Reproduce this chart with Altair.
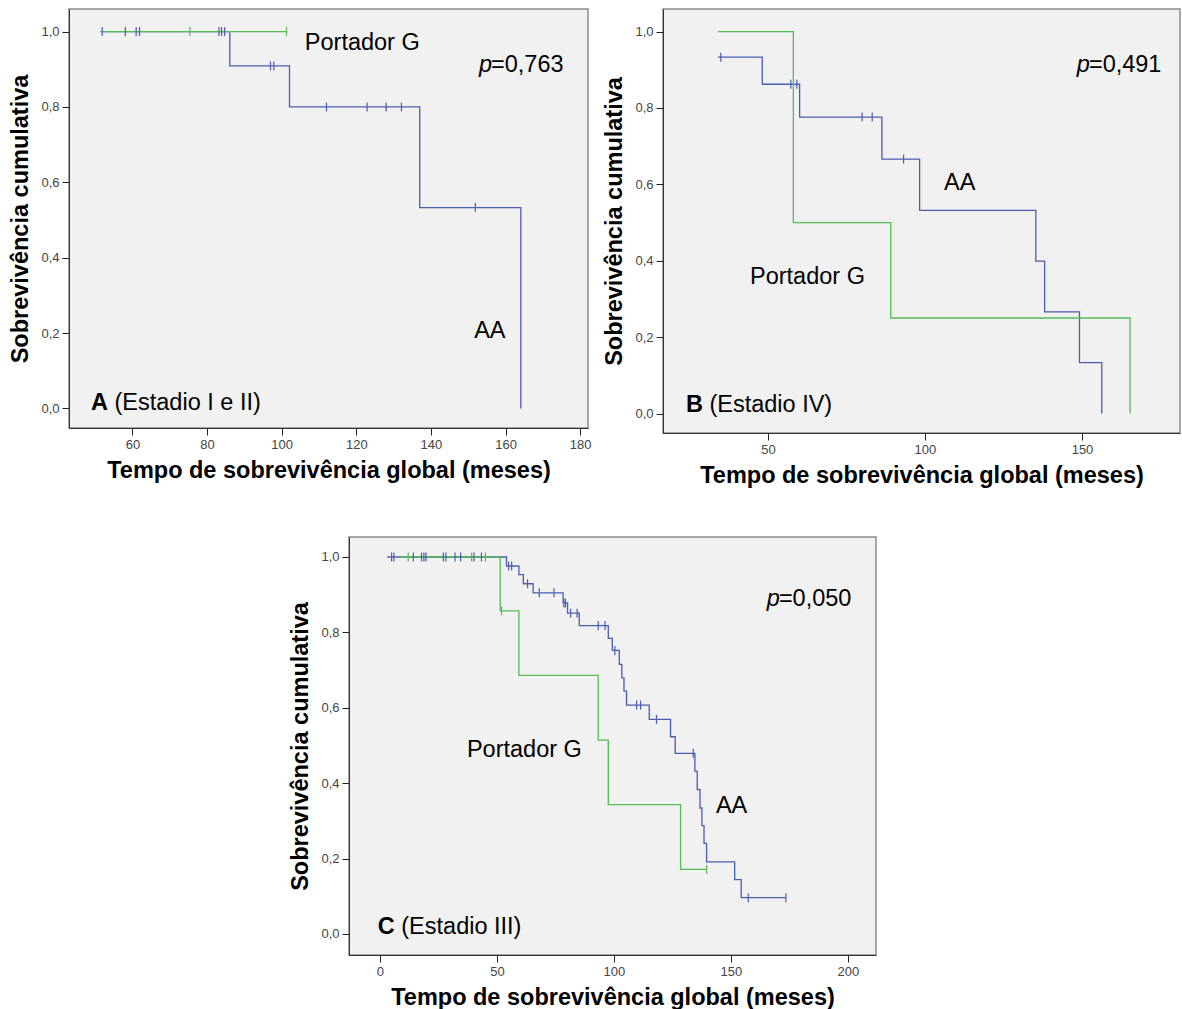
import altair as alt
import pandas as pd

FONT = "Liberation Sans"
BLUE = "#4a5db0"
GREEN = "#55bb55"
XTITLE = "Tempo de sobrevivência global (meses)"
YTITLE = "Sobrevivência cumulativa"

# ---------------- Panel A (Estadio I e II) ----------------
A_AA_t = [51.5, 86.1, 102.1, 137.0, 164.1]
A_AA_s = [1.0, 0.909, 0.800, 0.533, 0.0]
A_AA_ct = [51.9, 58.1, 61.0, 61.9, 83.2, 83.9, 84.7, 97.0, 97.9, 112.0, 122.9, 128.0, 132.1, 151.9]
A_AA_cs = [1, 1, 1, 1, 1, 1, 1, 0.909, 0.909, 0.8, 0.8, 0.8, 0.8, 0.533]
A_G_t = [51.4, 101.3]
A_G_s = [1.0, 1.0]
A_G_ct = [75.4, 101.3]
A_G_cs = [1.0, 1.0]

# ---------------- Panel B (Estadio IV) ----------------
B_AA_t = [34.1, 48.2, 60.1, 86.3, 98.3, 135.3, 138.1, 149.2, 156.3]
B_AA_s = [0.933, 0.862, 0.776, 0.666, 0.532, 0.399, 0.266, 0.133, 0.0]
B_AA_ct = [35.0, 57.3, 59.2, 80.0, 83.2, 93.2]
B_AA_cs = [0.933, 0.862, 0.862, 0.776, 0.776, 0.666]
B_G_t = [34.1, 58.1, 89.1, 165.3]
B_G_s = [1.0, 0.5, 0.25, 0.0]
B_G_ct = []
B_G_cs = []

# ---------------- Panel C (Estadio III) ----------------
C_AA_t = [3.1, 54.1, 59.4, 61.3, 65.5, 78.3, 80.2, 85.2, 97.6, 99.3, 102.3, 103.4, 104.3,
          105.4, 115.1, 124.2, 126.2, 134.6, 135.6, 136.8, 137.6, 138.5, 139.6, 151.6, 154.4, 173.5]
C_AA_s = [1.0, 0.976, 0.953, 0.929, 0.905, 0.878, 0.851, 0.818, 0.784, 0.752, 0.715, 0.679, 0.644,
          0.607, 0.569, 0.523, 0.479, 0.432, 0.383, 0.334, 0.287, 0.240, 0.191, 0.144, 0.096, 0.096]
C_AA_ct = [5.0, 6.0, 14.3, 17.8, 18.8, 19.7, 27.1, 28.2, 32.1, 34.5, 40.2, 43.4,
           55.0, 56.3, 63.1, 68.1, 74.4, 78.6, 79.3, 81.5, 84.3, 93.3, 96.2, 100.4,
           109.7, 111.4, 118.2, 133.9, 157.4, 173.5]
C_AA_cs = [1, 1, 1, 1, 1, 1, 1, 1, 1, 1, 1, 1,
           0.976, 0.976, 0.929, 0.905, 0.905, 0.878, 0.878, 0.851, 0.851, 0.818, 0.818, 0.752,
           0.607, 0.607, 0.569, 0.479, 0.096, 0.096]
C_G_t = [8.5, 51.4, 59.4, 93.3, 97.6, 128.5, 139.6]
C_G_s = [1.0, 0.857, 0.686, 0.514, 0.343, 0.171, 0.171]
C_G_ct = [12.1, 39.2, 45.1, 52.0, 139.6]
C_G_cs = [1.0, 1.0, 1.0, 0.857, 0.171]

# annotations: (x, y) in data units
A_ann = {"G": (106.2, 0.952), "AA": (151.6, 0.186), "p": (156.1, 0.894), "p_txt": "=0,763",
         "lab": (48.9, -0.005), "L": "A", "rest": "(Estadio I e II)"}
B_ann = {"G": (44.3, 0.338), "AA": (106.1, 0.584), "p": (152.2, 0.893), "p_txt": "=0,491",
         "lab": (23.9, 0.005), "L": "B", "rest": "(Estadio IV)"}
C_ann = {"G": (37.2, 0.468), "AA": (143.6, 0.320), "p": (170.5, 0.869), "p_txt": "=0,050",
         "lab": (-0.9, 0.001), "L": "C", "rest": "(Estadio III)"}

Y_TICKS = [0.0, 0.2, 0.4, 0.6, 0.8, 1.0]
FS = 23.5


def panel(aa_t, aa_s, aa_ct, aa_cs, g_t, g_s, g_ct, g_cs, ann, xdom, ydom, xticks, w, h):
    xs = alt.Scale(domain=xdom, nice=False, zero=False)
    ys = alt.Scale(domain=ydom, nice=False, zero=False)
    xax = alt.Axis(values=xticks, title=XTITLE, grid=False)
    yax = alt.Axis(values=Y_TICKS, title=YTITLE, grid=False,
                   labelExpr="replace(format(datum.value, '.1f'), '.', ',')")
    X = lambda f: alt.X(f, type="quantitative", scale=xs, axis=xax)
    Y = lambda f: alt.Y(f, type="quantitative", scale=ys, axis=yax)

    aa = pd.DataFrame({"t": aa_t, "s": aa_s})
    g = pd.DataFrame({"t": g_t, "s": g_s})
    aac = pd.DataFrame({"t": aa_ct, "s": aa_cs})
    gc = pd.DataFrame({"t": g_ct, "s": g_cs})

    layers = []
    layers.append(alt.Chart(aa).mark_line(interpolate="step-after", color=BLUE, strokeWidth=1.3)
                  .encode(x=X("t"), y=Y("s")))
    layers.append(alt.Chart(g).mark_line(interpolate="step-after", color=GREEN, strokeWidth=1.3)
                  .encode(x=X("t"), y=Y("s")))
    tick_shape = "M0,-1L0,1"
    layers.append(alt.Chart(aac).mark_point(shape=tick_shape, size=81, color=BLUE, strokeWidth=1.2,
                                            filled=False, opacity=1)
                  .encode(x=X("t"), y=Y("s")))
    if len(g_ct):
        layers.append(alt.Chart(gc).mark_point(shape=tick_shape, size=81, color=GREEN, strokeWidth=1.2,
                                               filled=False, opacity=1)
                      .encode(x=X("t"), y=Y("s")))

    reg = pd.DataFrame({"x": [ann["G"][0], ann["AA"][0], ann["p"][0]],
                        "y": [ann["G"][1], ann["AA"][1], ann["p"][1]],
                        "txt": ["Portador G", "AA", ann["p_txt"]]})
    layers.append(alt.Chart(reg).mark_text(align="left", baseline="alphabetic", font=FONT,
                                           fontSize=FS, color="black")
                  .encode(x=X("x"), y=Y("y"), text="txt:N"))
    pit = pd.DataFrame({"x": [ann["p"][0]], "y": [ann["p"][1]], "txt": ["p"]})
    layers.append(alt.Chart(pit).mark_text(align="right", baseline="alphabetic", font=FONT,
                                           fontSize=FS, fontStyle="italic", color="black", dx=1)
                  .encode(x=X("x"), y=Y("y"), text="txt:N"))
    lab = pd.DataFrame({"x": [ann["lab"][0]], "y": [ann["lab"][1]], "txt": [ann["L"]]})
    layers.append(alt.Chart(lab).mark_text(align="left", baseline="alphabetic", font=FONT,
                                           fontSize=FS, fontWeight="bold", color="black")
                  .encode(x=X("x"), y=Y("y"), text="txt:N"))
    rest = pd.DataFrame({"x": [ann["lab"][0]], "y": [ann["lab"][1]], "txt": [ann["rest"]]})
    layers.append(alt.Chart(rest).mark_text(align="left", baseline="alphabetic", font=FONT,
                                            fontSize=FS, color="black", dx=23.5)
                  .encode(x=X("x"), y=Y("y"), text="txt:N"))
    return alt.layer(*layers).properties(width=w, height=h)


pA = panel(A_AA_t, A_AA_s, A_AA_ct, A_AA_cs, A_G_t, A_G_s, A_G_ct, A_G_cs, A_ann,
           [43.0, 182.1], [-0.052, 1.060], [60, 80, 100, 120, 140, 160, 180], 519, 419)
pB = panel(B_AA_t, B_AA_s, B_AA_ct, B_AA_cs, B_G_t, B_G_s, B_G_ct, B_G_cs, B_ann,
           [16.6, 181.2], [-0.051, 1.059], [50, 100, 150], 517, 424)
pC = panel(C_AA_t, C_AA_s, C_AA_ct, C_AA_cs, C_G_t, C_G_s, C_G_ct, C_G_cs, C_ann,
           [-13.2, 212.0], [-0.056, 1.053], [0, 50, 100, 150, 200], 527, 418)

spacer = alt.Chart(pd.DataFrame({"a": [0]})).mark_text(text="").encode(
    x=alt.value(0), y=alt.value(0)
).properties(width=280, height=418,
             view=alt.ViewBackground(fill="transparent", stroke="transparent"))

top = alt.hconcat(pA, pB, spacing=75, bounds="flush")
bottom = alt.hconcat(spacer, pC, spacing=0, bounds="flush")
chart = alt.vconcat(top, bottom, spacing=42, bounds="full").properties(
    padding={"left": 8, "top": 8, "right": 0, "bottom": 0},
    background="white",
).configure_axis(
    labelFont=FONT, labelFontSize=13, labelColor="#444444",
    titleFont=FONT, titleFontSize=FS, titleFontWeight="bold", titleColor="black",
    tickColor="#222222", tickSize=7, tickWidth=1, labelPadding=3,
    domainColor="#333333", domainWidth=1,
).configure_axisX(titlePadding=7).configure_axisY(titlePadding=8).configure_view(
    fill="#f0f1f0", stroke="#8a8a8a", strokeWidth=1.5
)

chart.save("out.html", embed_options={"renderer": "svg", "actions": False})
